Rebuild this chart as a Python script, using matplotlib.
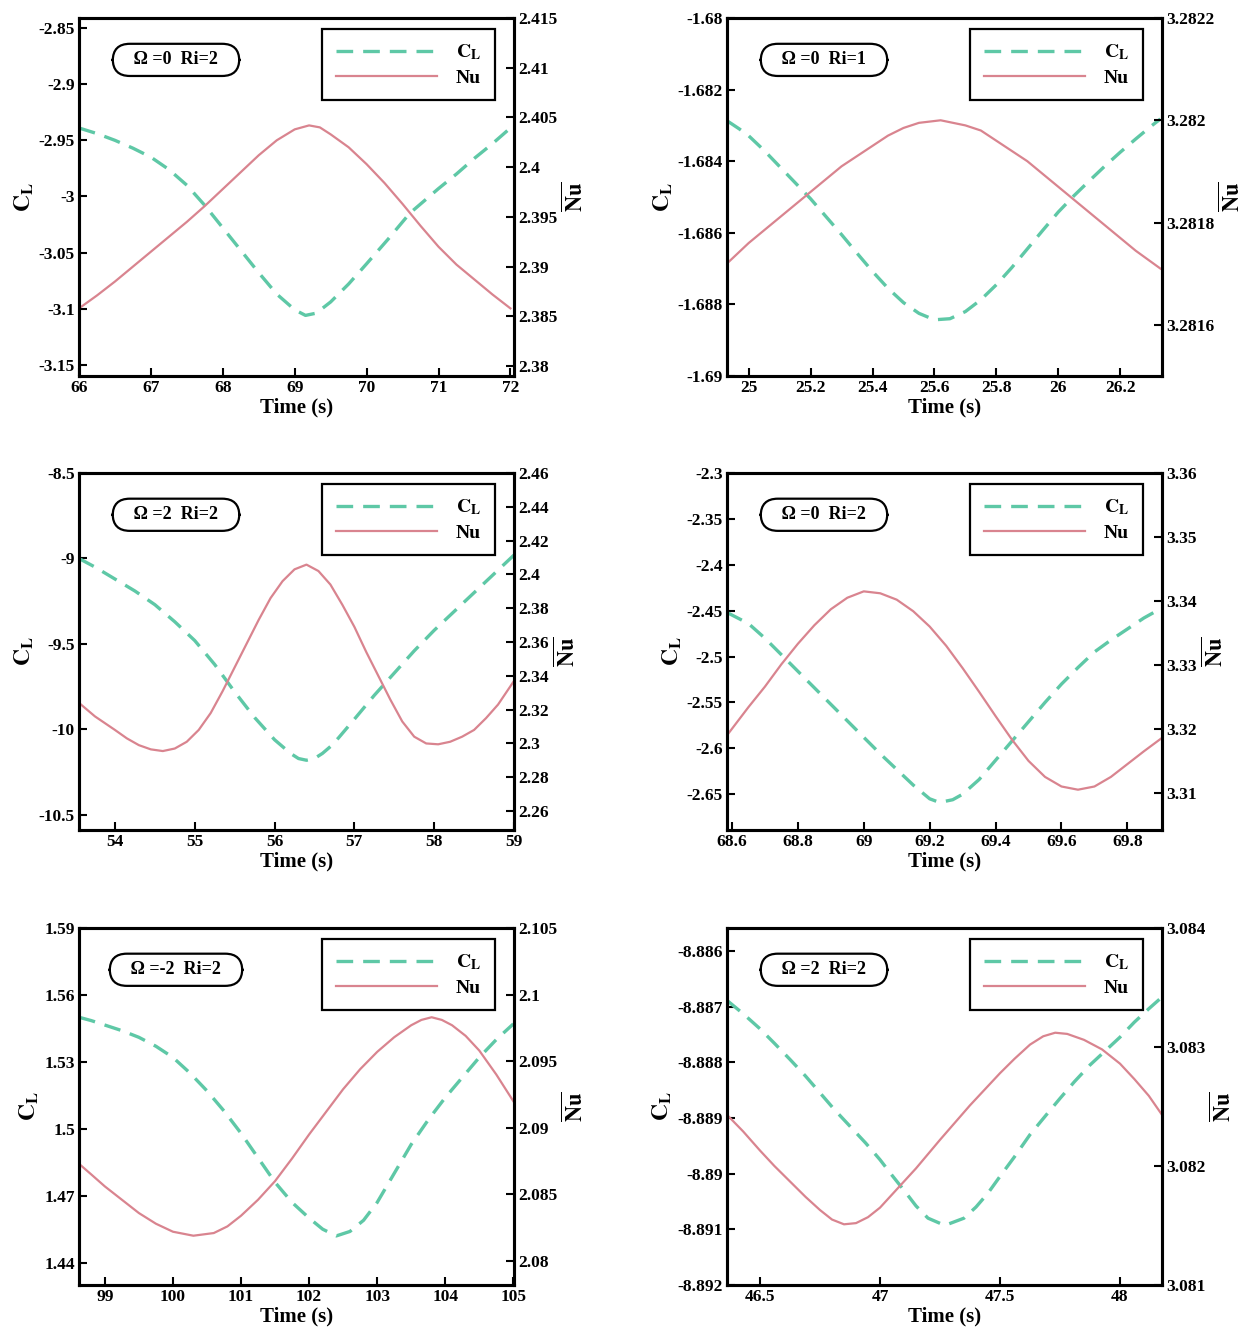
import matplotlib
matplotlib.use("Agg")
import matplotlib.pyplot as plt
from matplotlib.lines import Line2D

plt.rcParams['font.family'] = ['Liberation Serif', 'DejaVu Serif']
plt.rcParams['font.weight'] = 'bold'
plt.rcParams['mathtext.fontset'] = 'stix'
plt.rcParams['axes.unicode_minus'] = False

# ---- panel 1 : Omega=0 Ri=2 ----
t1 = [66.0, 66.25, 66.5, 66.75, 67.0, 67.25, 67.5, 67.75, 68.0, 68.25, 68.5, 68.75, 69.0, 69.15, 69.3,
      69.5, 69.75, 70.0, 70.3, 70.6, 70.8, 71.0, 71.25, 71.5, 71.75, 72.0]
cl1 = [-2.939, -2.944, -2.950, -2.957, -2.965, -2.976, -2.990, -3.008, -3.028, -3.048, -3.068, -3.087,
       -3.101, -3.106, -3.104, -3.094, -3.078, -3.060, -3.038, -3.015, -3.004, -2.993, -2.980, -2.966,
       -2.953, -2.939]
tn1 = [66.0, 66.25, 66.5, 66.75, 67.0, 67.25, 67.5, 67.75, 68.0, 68.25, 68.5, 68.75, 69.0, 69.2, 69.35,
       69.5, 69.75, 70.0, 70.25, 70.5, 70.75, 71.0, 71.25, 71.5, 71.75, 72.0]
nu1 = [2.3858, 2.3871, 2.3885, 2.3900, 2.3915, 2.3930, 2.3945, 2.3961, 2.3978, 2.3995, 2.4012, 2.4027,
       2.4038, 2.4042, 2.4040, 2.4033, 2.4020, 2.4003, 2.3984, 2.3963, 2.3941, 2.3920, 2.3902, 2.3887,
       2.3872, 2.3858]

# ---- panel 2 : Omega=0 Ri=1 ----
t2 = [24.93, 24.97, 25.0, 25.05, 25.1, 25.15, 25.2, 25.25, 25.3, 25.35, 25.4, 25.45, 25.5, 25.55, 25.6,
      25.65, 25.7, 25.75, 25.8, 25.85, 25.9, 25.95, 26.0, 26.05, 26.1, 26.15, 26.2, 26.25, 26.3, 26.33]
cl2 = [-1.68287, -1.68310, -1.68329, -1.68370, -1.68415, -1.68460, -1.68505, -1.68555, -1.68605,
       -1.68657, -1.68708, -1.68755, -1.68795, -1.68825, -1.68843, -1.68840, -1.68820, -1.68787,
       -1.68745, -1.68697, -1.68645, -1.68593, -1.68542, -1.68497, -1.68455, -1.68414, -1.68375,
       -1.68338, -1.68302, -1.68282]
tn2 = [24.93, 25.0, 25.05, 25.1, 25.15, 25.2, 25.25, 25.3, 25.35, 25.4, 25.45, 25.5, 25.55, 25.62, 25.7,
       25.75, 25.8, 25.85, 25.9, 25.95, 26.0, 26.05, 26.1, 26.15, 26.2, 26.25, 26.33]
nu2 = [3.28172, 3.28176, 3.281785, 3.28181, 3.281835, 3.28186, 3.281885, 3.28191, 3.28193, 3.28195,
       3.28197, 3.281985, 3.281995, 3.28200, 3.281990, 3.28198, 3.28196, 3.28194, 3.28192, 3.281895,
       3.28187, 3.281845, 3.28182, 3.281795, 3.28177, 3.281745, 3.28171]

# ---- panel 3 : Omega=2 Ri=2 ----
t3 = [53.55, 53.75, 54.0, 54.25, 54.5, 54.75, 55.0, 55.25, 55.5, 55.75, 56.0, 56.2, 56.3, 56.4, 56.5,
      56.6, 56.7, 56.8, 57.0, 57.25, 57.5, 57.75, 58.0, 58.25, 58.5, 58.75, 59.0]
cl3 = [-9.00, -9.05, -9.12, -9.19, -9.27, -9.37, -9.48, -9.62, -9.78, -9.93, -10.06, -10.14, -10.17,
       -10.18, -10.17, -10.14, -10.10, -10.05, -9.94, -9.80, -9.67, -9.54, -9.42, -9.31, -9.20, -9.09, -8.98]
tn3 = [53.55, 53.75, 54.0, 54.15, 54.3, 54.45, 54.6, 54.75, 54.9, 55.05, 55.2, 55.35, 55.5, 55.65, 55.8,
       55.95, 56.1, 56.25, 56.4, 56.55, 56.7, 56.85, 57.0, 57.15, 57.3, 57.45, 57.6, 57.75, 57.9, 58.05,
       58.2, 58.35, 58.5, 58.65, 58.8, 59.0]
nu3 = [2.324, 2.316, 2.308, 2.303, 2.299, 2.2965, 2.2955, 2.297, 2.301, 2.308, 2.318, 2.331, 2.345,
       2.359, 2.373, 2.386, 2.396, 2.403, 2.4058, 2.402, 2.394, 2.382, 2.369, 2.354, 2.340, 2.326, 2.313,
       2.304, 2.300, 2.2995, 2.301, 2.304, 2.308, 2.315, 2.323, 2.337]

# ---- panel 4 : Omega=0 Ri=2 ----
t4 = [68.585, 68.65, 68.7, 68.75, 68.8, 68.85, 68.9, 68.95, 69.0, 69.05, 69.1, 69.15, 69.2, 69.23,
      69.27, 69.3, 69.35, 69.4, 69.45, 69.5, 69.55, 69.6, 69.65, 69.7, 69.75, 69.8, 69.85, 69.905]
cl4 = [-2.452, -2.464, -2.480, -2.498, -2.516, -2.534, -2.552, -2.570, -2.588, -2.606, -2.623, -2.640,
       -2.655, -2.659, -2.656, -2.650, -2.634, -2.613, -2.592, -2.571, -2.550, -2.530, -2.512, -2.495,
       -2.482, -2.470, -2.458, -2.447]
tn4 = [68.585, 68.65, 68.7, 68.75, 68.8, 68.85, 68.9, 68.95, 69.0, 69.05, 69.1, 69.15, 69.2, 69.25,
       69.3, 69.35, 69.4, 69.45, 69.5, 69.55, 69.6, 69.65, 69.7, 69.75, 69.8, 69.85, 69.905]
nu4 = [3.3190, 3.3234, 3.3266, 3.3301, 3.3333, 3.3362, 3.3387, 3.3405, 3.3415, 3.3412, 3.3402, 3.3384,
       3.3360, 3.3330, 3.3295, 3.3258, 3.3220, 3.3183, 3.3150, 3.3125, 3.3110, 3.3105, 3.3110, 3.3125,
       3.3145, 3.3165, 3.3186]

# ---- panel 5 : Omega=-2 Ri=2 ----
t5 = [98.62, 98.8, 99.0, 99.25, 99.5, 99.75, 100.0, 100.25, 100.5, 100.75, 101.0, 101.25, 101.5, 101.75,
      102.0, 102.2, 102.4, 102.6, 102.8, 103.0, 103.25, 103.5, 103.75, 104.0, 104.25, 104.5, 104.75, 105.0]
cl5 = [1.550, 1.5485, 1.5465, 1.544, 1.541, 1.537, 1.532, 1.525, 1.517, 1.508, 1.498, 1.487, 1.476,
       1.467, 1.460, 1.455, 1.452, 1.454, 1.459, 1.467, 1.480, 1.493, 1.504, 1.514, 1.523, 1.532, 1.540, 1.547]
tn5 = [98.62, 98.8, 99.0, 99.25, 99.5, 99.75, 100.0, 100.3, 100.6, 100.8, 101.0, 101.25, 101.5, 101.75,
       102.0, 102.25, 102.5, 102.75, 103.0, 103.25, 103.5, 103.65, 103.8, 103.95, 104.1, 104.3, 104.5,
       104.75, 105.0]
nu5 = [2.0873, 2.0865, 2.0856, 2.0846, 2.0836, 2.0828, 2.0822, 2.0819, 2.0821, 2.0826, 2.0834, 2.0846,
       2.0860, 2.0877, 2.0895, 2.0912, 2.0929, 2.0944, 2.0957, 2.0968, 2.0977, 2.0981, 2.0983, 2.0981,
       2.0977, 2.0969, 2.0958, 2.0940, 2.0920]

# ---- panel 6 : Omega=2 Ri=2 ----
t6 = [46.3625, 46.43, 46.5, 46.56, 46.625, 46.69, 46.75, 46.81, 46.875, 46.94, 47.0, 47.05, 47.1, 47.15,
      47.2, 47.27, 47.35, 47.4, 47.45, 47.5, 47.56, 47.625, 47.69, 47.75, 47.81, 47.875, 47.94, 48.0,
      48.06, 48.12, 48.175]
cl6 = [-8.88689, -8.88713, -8.88740, -8.88766, -8.88795, -8.88825, -8.88855, -8.88885, -8.88915,
       -8.88945, -8.88975, -8.89003, -8.89030, -8.89058, -8.89080, -8.89093, -8.89080, -8.89060,
       -8.89035, -8.89005, -8.88970, -8.88930, -8.88896, -8.88865, -8.88835, -8.88805, -8.88779,
       -8.88755, -8.88728, -8.88704, -8.88683]
tn6 = [46.3625, 46.43, 46.5, 46.56, 46.625, 46.69, 46.75, 46.8, 46.85, 46.9, 46.95, 47.0, 47.05, 47.15,
       47.25, 47.375, 47.5, 47.56, 47.625, 47.68, 47.73, 47.78, 47.85, 47.925, 48.0, 48.06, 48.12, 48.175]
nu6 = [3.08243, 3.08229, 3.08213, 3.08200, 3.08187, 3.08174, 3.08163, 3.08155, 3.08151, 3.08152,
       3.08157, 3.08165, 3.08176, 3.08198, 3.08222, 3.08251, 3.08278, 3.08290, 3.08302, 3.08309,
       3.08312, 3.08311, 3.08306, 3.08298, 3.08286, 3.08273, 3.08259, 3.08243]

# tick labels as printed
xt1 = ['66', '67', '68', '69', '70', '71', '72']
yl1 = ['-3.15', '-3.1', '-3.05', '-3', '-2.95', '-2.9', '-2.85']
yr1 = ['2.38', '2.385', '2.39', '2.395', '2.4', '2.405', '2.41', '2.415']
xt2 = ['25', '25.2', '25.4', '25.6', '25.8', '26', '26.2']
yl2 = ['-1.69', '-1.688', '-1.686', '-1.684', '-1.682', '-1.68']
yr2 = ['3.2816', '3.2818', '3.282', '3.2822']
xt3 = ['54', '55', '56', '57', '58', '59']
yl3 = ['-10.5', '-10', '-9.5', '-9', '-8.5']
yr3 = ['2.26', '2.28', '2.3', '2.32', '2.34', '2.36', '2.38', '2.4', '2.42', '2.44', '2.46']
xt4 = ['68.6', '68.8', '69', '69.2', '69.4', '69.6', '69.8']
yl4 = ['-2.65', '-2.6', '-2.55', '-2.5', '-2.45', '-2.4', '-2.35', '-2.3']
yr4 = ['3.31', '3.32', '3.33', '3.34', '3.35', '3.36']
xt5 = ['99', '100', '101', '102', '103', '104', '105']
yl5 = ['1.44', '1.47', '1.5', '1.53', '1.56', '1.59']
yr5 = ['2.08', '2.085', '2.09', '2.095', '2.1', '2.105']
xt6 = ['46.5', '47', '47.5', '48']
yl6 = ['-8.892', '-8.891', '-8.89', '-8.889', '-8.888', '-8.887', '-8.886']
yr6 = ['3.081', '3.082', '3.083', '3.084']

tags = ['Ω =0  Ri=2', 'Ω =0  Ri=1', 'Ω =2  Ri=2', 'Ω =0  Ri=2', 'Ω =-2  Ri=2', 'Ω =2  Ri=2']

CL_COLOR = '#5ec8a6'
NU_COLOR = '#d9848f'

fig = plt.figure(figsize=(12.52, 13.4), dpi=100)

W, H = 1252, 1340
cols = [79, 727]
rows = [(18, 376), (473, 830), (928, 1285)]
aw = 435


def panel(pos, t, cl, tn, nu, xt, yl, yr, xlim, ylim_l, ylim_r, tag):
    x0, (top, bot) = pos
    ax = fig.add_axes([x0 / W, 1 - bot / H, aw / W, (bot - top) / H])
    ax2 = ax.twinx()
    ax.plot(t, cl, color=CL_COLOR, ls=(0, (5, 3)), lw=2.4)
    ax2.plot(tn, nu, color=NU_COLOR, lw=1.6)
    ax.set_xlim(*xlim)
    ax.set_ylim(*ylim_l)
    ax2.set_ylim(*ylim_r)
    ax.set_xticks([float(v) for v in xt])
    ax.set_xticklabels(xt)
    ax.set_yticks([float(v) for v in yl])
    ax.set_yticklabels(yl)
    ax2.set_yticks([float(v) for v in yr])
    ax2.set_yticklabels(yr)
    for a in (ax, ax2):
        a.tick_params(direction='in', length=6, width=1.5, labelsize=12.5, pad=3)
        for s in a.spines.values():
            s.set_linewidth(2.2)
    ax.set_xlabel('Time (s)', fontsize=15, fontweight='bold', labelpad=1)
    ax.set_ylabel(r'$\mathbf{C_L}$', fontsize=17, labelpad=2)
    ax2.set_ylabel(r'$\overline{\mathbf{Nu}}$', fontsize=16, labelpad=4, rotation=90)
    ax.text(0.223, 0.883, '   ' + tag + '   ', transform=ax.transAxes, ha='center', va='center',
            fontsize=13, fontweight='bold',
            bbox=dict(boxstyle='round,pad=0.42,rounding_size=0.95', fc='white', ec='black', lw=1.6))
    handles = [Line2D([], [], color=CL_COLOR, ls=(0, (5, 3)), lw=2.4),
               Line2D([], [], color=NU_COLOR, lw=1.6)]
    leg = ax2.legend(handles, [r'$\mathbf{C_L}$', 'Nu'], loc='upper right',
                     bbox_to_anchor=(0.956, 0.969), borderaxespad=0, fancybox=False, framealpha=1,
                     edgecolor='black', fontsize=14, handlelength=5.2, borderpad=0.7,
                     labelspacing=0.35, handletextpad=1.0)
    leg.get_frame().set_linewidth(1.6)
    return ax


panel((cols[0], rows[0]), t1, cl1, tn1, nu1, xt1, yl1, yr1, (66, 72.05), (-3.16, -2.841), (2.379, 2.415), tags[0])
panel((cols[1], rows[0]), t2, cl2, tn2, nu2, xt2, yl2, yr2, (24.93, 26.335), (-1.69, -1.68), (3.2815, 3.2822), tags[1])
panel((cols[0], rows[1]), t3, cl3, tn3, nu3, xt3, yl3, yr3, (53.55, 59.0), (-10.588, -8.5), (2.2488, 2.46), tags[2])
panel((cols[1], rows[1]), t4, cl4, tn4, nu4, xt4, yl4, yr4, (68.585, 69.905), (-2.689, -2.3), (3.3042, 3.36), tags[3])
panel((cols[0], rows[2]), t5, cl5, tn5, nu5, xt5, yl5, yr5, (98.62, 105.01), (1.430, 1.59), (2.0782, 2.105), tags[4])
panel((cols[1], rows[2]), t6, cl6, tn6, nu6, xt6, yl6, yr6, (46.3625, 48.175), (-8.892, -8.88559), (3.081, 3.084), tags[5])

fig.savefig('out.png', dpi=100)
